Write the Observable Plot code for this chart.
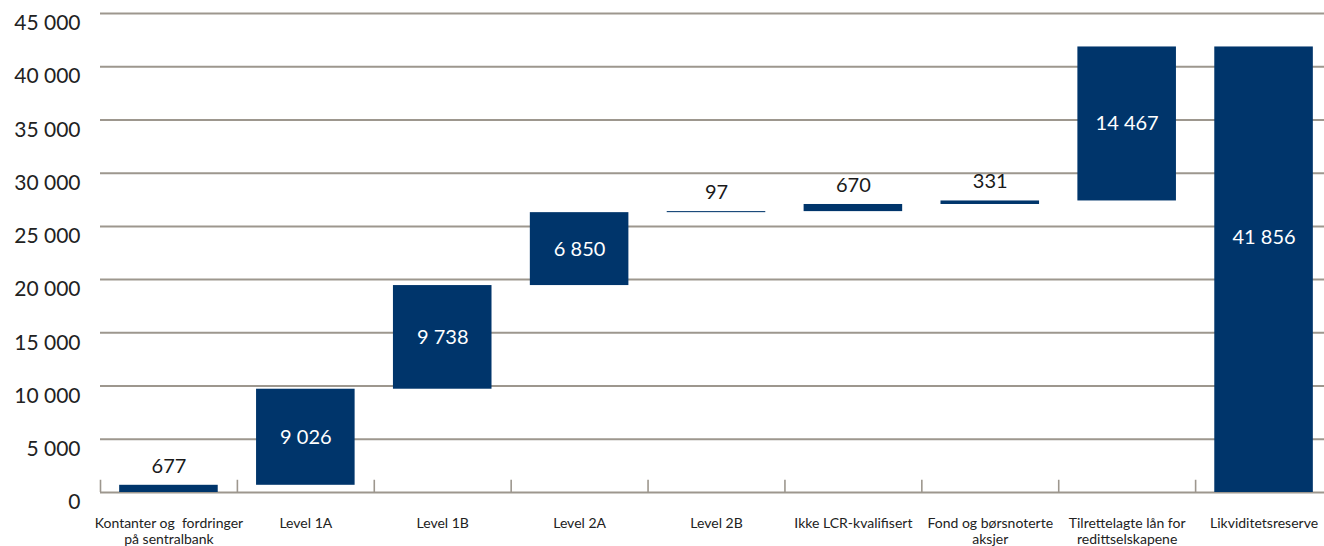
<!DOCTYPE html>
<html>
<head>
<meta charset="utf-8">
<script src="https://cdn.jsdelivr.net/npm/d3@7"></script>
<script src="https://cdn.jsdelivr.net/npm/@observablehq/plot@0.6"></script>
<style>
  html, body { margin: 0; padding: 0; background: #fff; overflow: hidden; }
  #chart svg { overflow: visible; }
</style>
</head>
<body>
<div id="chart"></div>
<script>
// Liquidity reserve, built up step by step (MNOK)
const categories = [
  "Kontanter og  fordringer\npå sentralbank",
  "Level 1A",
  "Level 1B",
  "Level 2A",
  "Level 2B",
  "Ikke LCR-kvalifisert",
  "Fond og børsnoterte\naksjer",
  "Tilrettelagte lån for\nredittselskapene",
  "Likviditetsreserve"
];
const values = [677, 9026, 9738, 6850, 97, 670, 331, 14467, 41856];
const isTotal = [false, false, false, false, false, false, false, false, true];
const yTicks = [0, 5000, 10000, 15000, 20000, 25000, 30000, 35000, 40000, 45000];

// running totals for the waterfall steps
let running = 0;
const rows = categories.map((category, i) => {
  const start = isTotal[i] ? 0 : running;
  const end = isTotal[i] ? values[i] : running + values[i];
  if (!isTotal[i]) running = end;
  return {category, value: values[i], start, end, mid: (start + end) / 2, total: isTotal[i]};
});

const fmt = d => d3.format(",")(d).replace(/,/g, " ");
const width = 1324, marginLeft = 100;
// the last band runs a little past the right edge of the frame
const xRange = [marginLeft, width + 8];
const step = (xRange[1] - xRange[0]) / categories.length;
const navy = "#00356b";
const gridColor = "#9d978e";
const font = "Lato, 'Open Sans', sans-serif";

const steps = rows.filter(d => d.value >= 1000 && !d.total);
const totals = rows.filter(d => d.total);
const small = rows.filter(d => d.value < 1000);

const chart = Plot.plot({
  width,
  height: 546,
  marginTop: 13,
  marginBottom: 54,
  marginLeft,
  marginRight: 0,
  style: {fontFamily: font, background: "#fff", color: "#222"},
  x: {domain: categories, range: xRange, round: false, paddingInner: 0.28, paddingOuter: 0.14, label: null},
  y: {domain: [0, 45000], label: null},
  marks: [
    Plot.gridY(yTicks, {stroke: gridColor, strokeOpacity: 1, strokeWidth: 2}),
    Plot.ruleX(rows, {x: "category", dx: -step / 2, y1: 0, y2: 1150, stroke: gridColor, strokeWidth: 1.6}),
    Plot.barY(rows, {x: "category", y1: "start", y2: "end", fill: navy}),
    Plot.text(steps, {
      x: "category", y: "mid", text: d => fmt(d.value),
      fill: "#fff", fontSize: 20, fontFamily: font
    }),
    Plot.text(totals, {
      x: "category", y: "mid", text: d => fmt(d.value), dy: -32,
      fill: "#fff", fontSize: 20, fontFamily: font
    }),
    Plot.text(small, {
      x: "category", y: "end", text: d => fmt(d.value),
      dy: -19, fill: "#1a1a1a", fontSize: 20, fontFamily: font
    }),
    Plot.axisY(yTicks, {
      tickSize: 0, tickPadding: 20, dy: 10, tickFormat: fmt,
      fontSize: 21, fill: "#222", fontFamily: font
    }),
    Plot.axisX({
      tickSize: 0, tickPadding: 25, fontSize: 14, lineHeight: 1.1,
      fill: "#222", fontFamily: font
    })
  ]
});

document.getElementById("chart").append(chart);
</script>
</body>
</html>
